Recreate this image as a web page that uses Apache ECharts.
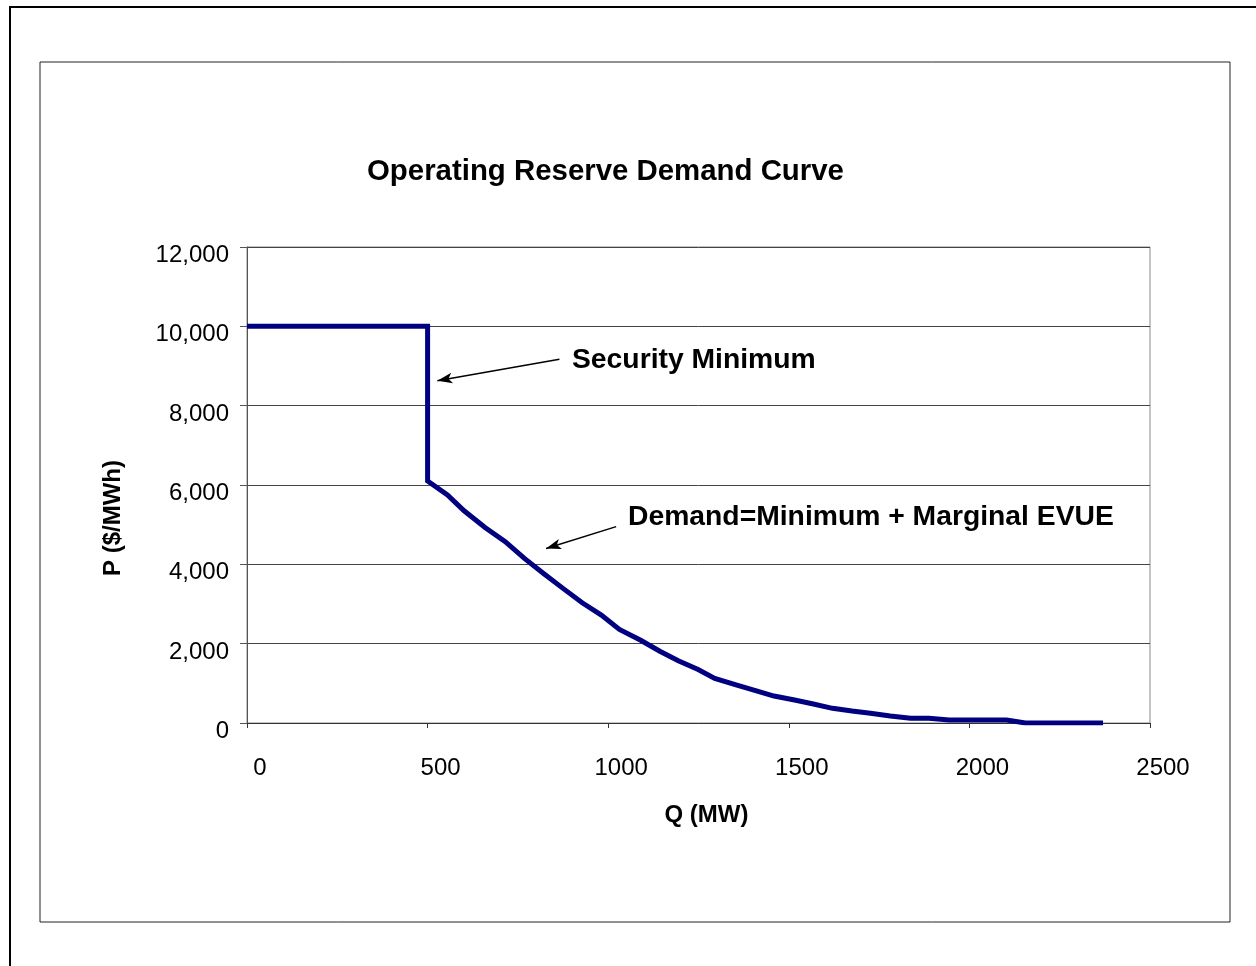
<!DOCTYPE html>
<html>
<head>
<meta charset="utf-8">
<script src="https://cdn.jsdelivr.net/npm/echarts@6/dist/echarts.min.js"></script>
<style>
html,body{margin:0;padding:0;background:#fff;}
#chart{width:1256px;height:966px;}
</style>
</head>
<body>
<div id="chart"></div>
<script>
// Data
var quantityMW = [0, 500, 500, 555, 601, 659, 715, 768, 821, 874, 928, 981, 1031, 1090, 1143, 1194, 1249, 1295, 1354, 1408, 1459, 1516, 1568, 1621, 1675, 1726, 1781, 1837, 1888, 1944, 1996, 2050, 2103, 2155, 2207, 2264, 2317, 2370];
var priceUSDperMWh = [10000, 10000, 6100, 5750, 5350, 4930, 4570, 4150, 3770, 3400, 3030, 2720, 2360, 2085, 1810, 1570, 1350, 1125, 960, 815, 680, 580, 480, 370, 300, 245, 175, 120, 120, 75, 75, 75, 75, 0, 0, 0, 0, 0];
var xTicks = [0, 500, 1000, 1500, 2000, 2500];
var yTicks = [0, 2000, 4000, 6000, 8000, 10000, 12000];
var titleText = 'Operating Reserve Demand Curve';
var xName = 'Q (MW)';
var yName = 'P ($/MWh)';
var noteSecurity = 'Security Minimum';
var noteDemand = 'Demand=Minimum + Marginal EVUE';
// annotation arrows: [from, to] in data units (Q, P)
var arrowSecurity = [[865, 9170], [527, 8630]];
var arrowDemand = [[1022, 4950], [828, 4400]];

var FONT = '"Liberation Sans", Arial, sans-serif';
var seriesData = quantityMW.map(function (q, i) { return [q, priceUSDperMWh[i]]; });

var chart = echarts.init(document.getElementById('chart'), null, {renderer: 'canvas'});
var option = {
  animation: false,
  backgroundColor: '#ffffff',
  title: {
    text: titleText,
    left: 362,
    top: 152,
    textStyle: {fontFamily: FONT, fontSize: 29.4, fontWeight: 'bold', color: '#000'}
  },
  grid: {
    left: 247, top: 247, right: 106, bottom: 243,
    show: true, borderColor: '#888', borderWidth: 1, backgroundColor: 'transparent'
  },
  xAxis: {
    type: 'value',
    min: xTicks[0], max: xTicks[xTicks.length - 1], interval: xTicks[1] - xTicks[0],
    name: xName, nameLocation: 'middle', nameGap: 80,
    nameTextStyle: {fontFamily: FONT, fontSize: 24, fontWeight: 'bold', color: '#000', padding: [0, 0, 0, 16]},
    axisLine: {show: true, onZero: false, lineStyle: {color: '#333', width: 1}},
    axisTick: {show: true, inside: false, length: 5, lineStyle: {color: '#333'}},
    axisLabel: {fontFamily: FONT, fontSize: 24, color: '#000', margin: 33, padding: [0, 0, 0, 26],
      formatter: function (v) { return String(v); }},
    splitLine: {show: false}
  },
  yAxis: {
    type: 'value',
    min: yTicks[0], max: yTicks[yTicks.length - 1], interval: yTicks[1] - yTicks[0],
    name: yName, nameLocation: 'middle', nameRotate: 90, nameGap: 122,
    nameTextStyle: {fontFamily: FONT, fontSize: 24, fontWeight: 'bold', color: '#000', padding: [0, 66, 0, 0]},
    axisLine: {show: true, lineStyle: {color: '#555', width: 1}},
    axisTick: {show: true, inside: false, length: 7, lineStyle: {color: '#555'}},
    axisLabel: {
      fontFamily: FONT, fontSize: 24, color: '#000', margin: 18,
      verticalAlign: 'top', lineHeight: 17,
      formatter: function (v) { return v.toLocaleString('en-US'); }
    },
    splitLine: {show: true, lineStyle: {color: '#444', width: 1}}
  },
  series: [{
    type: 'line',
    data: seriesData,
    showSymbol: false,
    symbol: 'none',
    lineStyle: {color: '#000080', width: 5, cap: 'butt', join: 'miter'},
    itemStyle: {color: '#000080'},
    silent: true,
    markLine: {
      silent: true,
      symbol: ['none', 'arrow'],
      symbolSize: [8, 15],
      label: {show: false},
      lineStyle: {color: '#000', width: 1.5, type: 'solid'},
      emphasis: {disabled: true},
      data: [
        [{coord: arrowSecurity[0]}, {coord: arrowSecurity[1]}],
        [{coord: arrowDemand[0]}, {coord: arrowDemand[1]}]
      ]
    }
  }],
  graphic: [
    {type: 'rect', shape: {x: 10, y: 7, width: 1400, height: 1100},
     style: {fill: 'none', stroke: '#000', lineWidth: 2}, silent: true, z: -1},
    {type: 'rect', shape: {x: 40, y: 62, width: 1190, height: 860},
     style: {fill: 'none', stroke: '#222', lineWidth: 1}, silent: true, z: -1},
    {type: 'text', x: 572, y: 360, silent: true,
     style: {text: noteSecurity, font: 'bold 28.3px ' + FONT, fill: '#000', textVerticalAlign: 'middle', verticalAlign: 'middle'}},
    {type: 'text', x: 628, y: 517, silent: true,
     style: {text: noteDemand, font: 'bold 28.3px ' + FONT, fill: '#000', textVerticalAlign: 'middle', verticalAlign: 'middle'}}
  ]
};
chart.setOption(option);
</script>
</body>
</html>
